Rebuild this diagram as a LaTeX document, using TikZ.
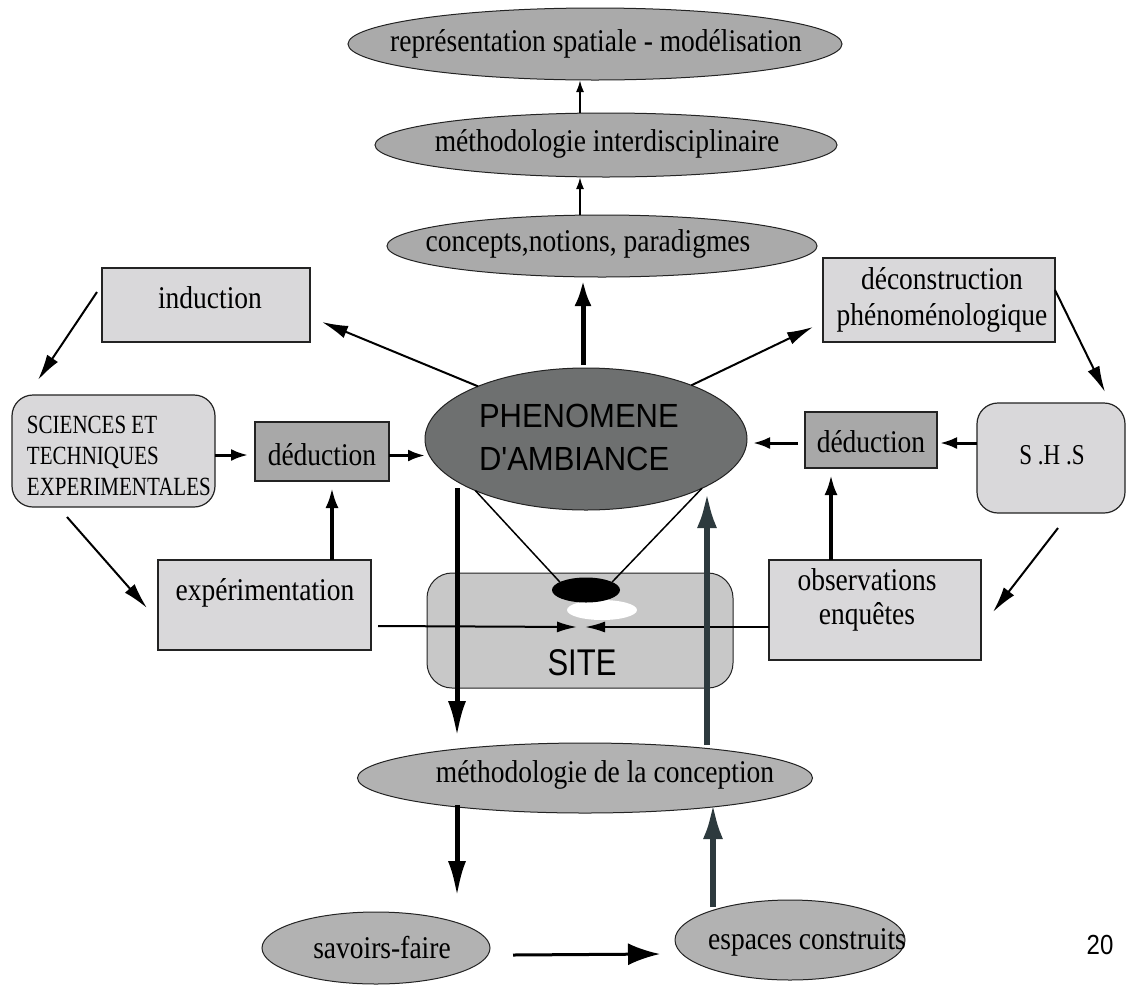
\documentclass[tikz,border=0pt]{standalone}
\usepackage{fontspec}
\setmainfont{Liberation Serif}
\newfontfamily\sansfont{Liberation Sans}
\usetikzlibrary{arrows.meta,shapes.geometric,calc}

\definecolor{boxlight}{RGB}{217,216,218}
\definecolor{boxmid}{RGB}{168,168,168}
\definecolor{ellmid}{RGB}{170,170,170}
\definecolor{ellcore}{RGB}{110,112,112}
\definecolor{sitegray}{RGB}{200,200,200}
\definecolor{slate}{RGB}{45,58,62}
\definecolor{edge}{RGB}{35,35,35}

% narrow, tall lettering
\newcommand\tallx[1]{\scalebox{1}[1.15]{#1}}
\newcommand\tallcaps[1]{\scalebox{1}[1.25]{#1}}

\begin{document}
\begin{tikzpicture}[x=1pt,y=-1pt,
  every node/.style={inner sep=0pt,outer sep=0pt},
  serif/.style={font=\fontsize{27.5}{36}\selectfont},
  oval/.style={ellipse,draw=edge,line width=1pt,fill=ellmid},
  lightbox/.style={rectangle,draw=edge,line width=1.6pt,fill=boxlight},
  midbox/.style={rectangle,draw=edge,line width=1.6pt,fill=boxmid},
  roundbox/.style={rectangle,rounded corners=21pt,draw=edge,line width=1.2pt,fill=boxlight},
  lbl/.style={serif,align=center},
  tinyA/.style={line width=2pt,-{Latex[length=12pt,width=8pt]}},
  thinA/.style={line width=2pt,-{Latex[length=26pt,width=13pt]}},
  midA/.style={line width=3pt,-{Latex[length=17pt,width=12pt]}},
  vertA/.style={line width=3.5pt,-{Latex[length=20pt,width=13pt]}},
  siteA/.style={line width=2pt,-{Latex[length=20pt,width=11pt]}},
  upA/.style={line width=5pt,-{Latex[length=26pt,width=17pt]}},
  bigA/.style={line width=5pt,-{Latex[length=36pt,width=18pt]}},
  sideA/.style={line width=3pt,-{Latex[length=32pt,width=22pt]}},
  slateA/.style={line width=6pt,draw=slate,-{Latex[length=36pt,width=20pt]}},
  tie/.style={line width=1.5pt}
]
\fill[white] (0,0) rectangle (1127,986);
\useasboundingbox (0,0) rectangle (1127,986);

% upper chain of ellipses
\node[oval,minimum width=494pt,minimum height=72pt] (repr) at (595,44) {};
\node[oval,minimum width=462pt,minimum height=64pt] (methInter) at (606,145) {};
\node[oval,minimum width=430pt,minimum height=62pt] (concepts) at (602,246) {};
\node[lbl] (repr-t) at (596,44) {\tallx{représentation spatiale - modélisation}};
\node[lbl] (methInter-t) at (607,144) {\tallx{méthodologie interdisciplinaire}};
\node[lbl] (concepts-t) at (588,244) {\tallx{concepts,notions, paradigmes}};

% left side
\node[lightbox,minimum width=208pt,minimum height=74pt] (induction) at (206,305) {};
\node[lbl] (induction-t) at (210,298) {\tallx{induction}};
\node[roundbox,minimum width=203pt,minimum height=112pt] (sciences) at (113.5,451) {};
\node[font=\fontsize{21}{31}\selectfont,align=left,anchor=west] (sciences-t) at (27,456)
  {\tallcaps{SCIENCES ET}\\\tallcaps{TECHNIQUES}\\\tallcaps{EXPERIMENTALES}};
\node[midbox,minimum width=134pt,minimum height=59pt] (dedL) at (322,451.5) {};
\node[lbl] (dedL-t) at (322,455) {\tallx{déduction}};
\node[lightbox,minimum width=213pt,minimum height=90pt] (exp) at (264.5,605) {};
\node[lbl] (exp-t) at (265,593) {\tallx{expérimentation}};

% right side
\node[lightbox,minimum width=232pt,minimum height=84pt] (decon) at (939,300) {};
\node[lbl] (decon-t) at (942,300) {\tallx{déconstruction}\\\tallx{phénoménologique}};
\node[roundbox,minimum width=148pt,minimum height=110pt] (shs) at (1051,458) {};
\node[font=\fontsize{23}{28}\selectfont] (shs-t) at (1052,455) {\tallcaps{S .H .S}};
\node[midbox,minimum width=132pt,minimum height=56pt] (dedR) at (871,440) {};
\node[lbl] (dedR-t) at (871,442) {\tallx{déduction}};
\node[lightbox,minimum width=212pt,minimum height=100pt] (obs) at (875,610) {};
\node[font=\fontsize{27.5}{34}\selectfont,align=center] (obs-t) at (867,600) {\tallx{observations}\\\tallx{enquêtes}};

% centre: phenomenon and site
\node[ellipse,draw=edge,line width=1pt,fill=ellcore,minimum width=322pt,minimum height=142pt] (phen) at (586,439) {};
\node[font=\sansfont\fontsize{31}{43}\selectfont,align=left,anchor=west] (phen-t) at (479,437)
  {\scalebox{1}[1.08]{PHENOMENE}\\\scalebox{1}[1.08]{D'AMBIANCE}};
\node[rectangle,rounded corners=25pt,draw=edge,line width=1pt,fill=sitegray,
      minimum width=306pt,minimum height=115pt] (site) at (580,630.5) {};
\node[ellipse,fill=white,minimum width=70pt,minimum height=20pt] (whiteEll) at (602,610) {};
\node[ellipse,fill=black,minimum width=68pt,minimum height=25pt] (blackEll) at (586,590) {};
\node[font=\sansfont\fontsize{31}{36}\selectfont] (site-t) at (582,663) {\scalebox{1}[1.2]{SITE}};

% lower chain
\node[oval,fill=ellmid!90!white,minimum width=455pt,minimum height=70pt] (methConc) at (585,778) {};
\node[lbl] (methConc-t) at (605,775) {\tallx{méthodologie de la conception}};
\node[oval,fill=ellmid!90!white,minimum width=228pt,minimum height=72pt] (savoirs) at (376,948) {};
\node[lbl] (savoirs-t) at (382,948) {\tallx{savoirs-faire}};
\node[oval,fill=ellmid!90!white,minimum width=230pt,minimum height=80pt] (espaces) at (790,940) {};
\node[lbl] (espaces-t) at (807,942) {\tallx{espaces construits}};

\node[font=\sansfont\fontsize{24}{28}\selectfont] (page-t) at (1100,945) {\scalebox{1}[1.15]{20}};

% connectors of the upper chain
\draw[tinyA] ([xshift=-26pt]methInter.north) -- ([xshift=-15pt]repr.south);
\draw[tinyA] ([xshift=-22pt]concepts.north) -- ([xshift=-26pt]methInter.south);
\draw[upA] ([xshift=-3pt,yshift=3pt]phen.north) -- ([xshift=-19pt,yshift=-3pt]concepts.south);

% diagonal cycle connectors
\draw[thinA] (phen.154) -- ([xshift=12pt,yshift=-17pt]induction.east);
\draw[thinA] (phen.27) -- ([xshift=-10pt,yshift=-27pt]decon.west);
\draw[thinA] ([yshift=10pt]decon.east) -- ([xshift=54pt,yshift=11pt]shs.north);
\draw[thinA] ([xshift=-5pt,yshift=13pt]induction.west) -- ([xshift=-75.5pt,yshift=15pt]sciences.north);
\draw[thinA] ([xshift=-46.5pt,yshift=-10pt]sciences.south) -- ([xshift=-11pt,yshift=-3pt]exp.west);
\draw[thinA] ([xshift=7pt,yshift=-15pt]shs.south) -- ([xshift=12pt,yshift=-2pt]obs.east);

% deductions
\draw[midA] ([yshift=-4pt]sciences.east) -- ([yshift=-4pt,xshift=-7pt]sciences.east -| dedL.west);
\draw[midA] ([yshift=-4pt]dedL.east) -- ([yshift=-4pt]dedL.east -| phen.west);
\draw[midA] ([yshift=15pt]shs.west) -- ([yshift=15pt,xshift=3pt]shs.west -| dedR.east);
\draw[midA] ([yshift=-3pt,xshift=-7pt]dedR.west) -- ([yshift=-3pt,xshift=6pt]dedR.west -| phen.east);
\coordinate (dedL-in) at ([xshift=10pt,yshift=-7pt]dedL.south);
\coordinate (dedR-in) at ([xshift=-40pt,yshift=-7pt]dedR.south);
\draw[vertA] (exp.north -| dedL-in) -- (dedL-in);
\draw[vertA] (obs.north -| dedR-in) -- (dedR-in);

% field work converging on the site
\coordinate (meetL) at ([xshift=-3pt,yshift=3.5pt]site.center);
\coordinate (meetR) at ([xshift=5pt,yshift=3.5pt]site.center);
\draw[siteA] ([xshift=7pt,yshift=-21pt]exp.east) -- (meetL);
\draw[siteA] ([yshift=-17pt]obs.west) -- (meetR);

% projection of the phenomenon onto the site
\draw[tie] (phen.205) -- (blackEll.163);
\draw[tie] (phen.337) -- (blackEll.17);

% vertical flows
\draw[bigA] ([xshift=-129pt,yshift=-49pt]phen.center) -- ([xshift=-128pt,yshift=6pt]methConc.north);
\draw[bigA] ([xshift=-128pt,yshift=8pt]methConc.south) -- ([xshift=81pt,yshift=15pt]savoirs.north);
\draw[sideA] ([xshift=23pt,yshift=-7pt]savoirs.east) -- ([xshift=-15pt,yshift=-14pt]espaces.west);
\draw[slateA] ([xshift=-77pt,yshift=-7pt]espaces.north) -- ([xshift=128pt,yshift=10pt]methConc.south);
\draw[slateA] ([xshift=122pt,yshift=-2pt]methConc.north) -- ([xshift=121pt,yshift=-53pt]phen.center);
\end{tikzpicture}
\end{document}
